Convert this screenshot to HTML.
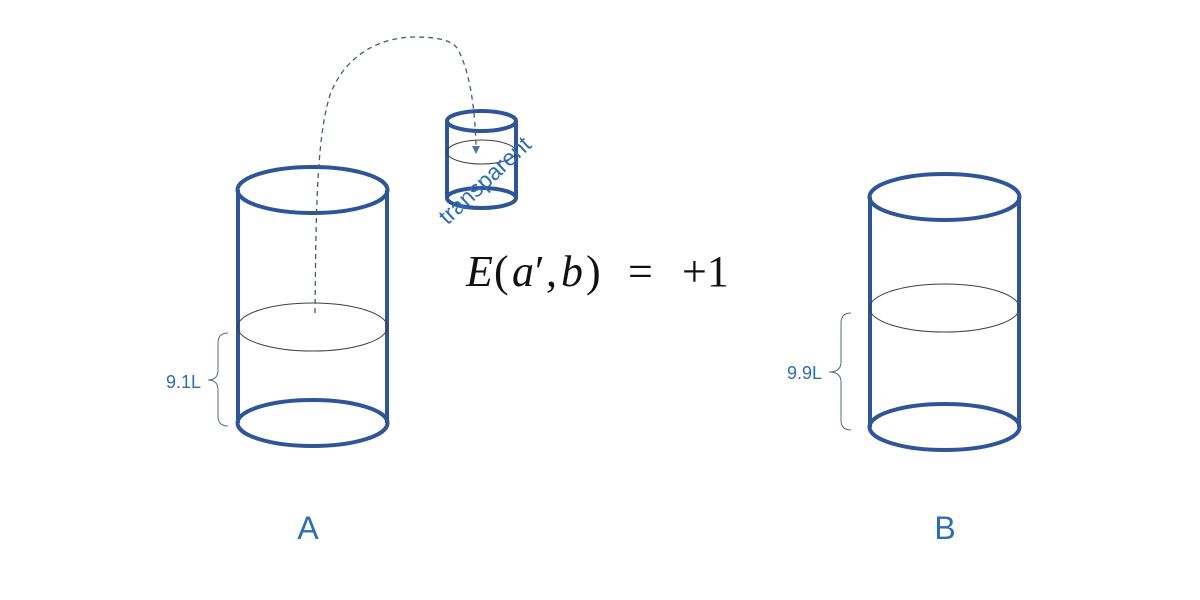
<!DOCTYPE html>
<html><head><meta charset="utf-8"><style>
html,body{margin:0;padding:0;background:#fff;}
svg{display:block;}
</style></head><body>
<svg width="1200" height="600" viewBox="0 0 1200 600" xmlns="http://www.w3.org/2000/svg">
<g fill="none" stroke="#2f5597">
  <line x1="238" y1="190" x2="238" y2="423" stroke-width="4"/>
  <line x1="387" y1="190" x2="387" y2="423" stroke-width="4"/>
  <ellipse cx="312.5" cy="190" rx="75" ry="23" stroke-width="4"/>
  <ellipse cx="312.5" cy="423" rx="75" ry="23" stroke-width="4"/>
  <line x1="870" y1="197" x2="870" y2="427" stroke-width="4"/>
  <line x1="1019" y1="197" x2="1019" y2="427" stroke-width="4"/>
  <ellipse cx="944.5" cy="197" rx="75" ry="23" stroke-width="4"/>
  <ellipse cx="944.5" cy="427" rx="75" ry="23" stroke-width="4"/>
  <line x1="447" y1="121" x2="447" y2="198" stroke-width="4"/>
  <line x1="516" y1="121" x2="516" y2="198" stroke-width="4"/>
  <ellipse cx="481.5" cy="121" rx="34.5" ry="10" stroke-width="4"/>
  <ellipse cx="481.5" cy="198" rx="34.5" ry="10" stroke-width="4"/>
</g>
<g fill="none" stroke="#404040" stroke-width="1">
  <ellipse cx="312.5" cy="327" rx="75" ry="24"/>
  <ellipse cx="944.5" cy="308" rx="75" ry="24"/>
  <ellipse cx="481.5" cy="152" rx="34.5" ry="12"/>
</g>
<path d="M315,313 C316,220 316,140 330,95 C345,55 380,37 415,37 C440,37 452,41 457,48 C470,70 475,110 476,145" fill="none" stroke="#4a5a75" stroke-width="1.3" stroke-dasharray="5,4"/>
<polygon points="472,146 480,146 476,154" fill="#4a72b0"/>
<g fill="none" stroke="#5a6a80" stroke-width="1">
  <path d="M228,333 Q218,333 218,343 L218,370 Q218,380 208,380 Q218,380 218,390 L218,416 Q218,426 228,426"/>
  <path d="M851,313 Q841,313 841,323 L841,362 Q841,372 829,372 Q841,372 841,382 L841,420 Q841,430 851,430"/>
</g>
<g font-family="Liberation Sans, sans-serif" fill="#2e6db4">
  <text x="201" y="388" font-size="18" text-anchor="end">9.1L</text>
  <text x="822" y="379" font-size="18" text-anchor="end">9.9L</text>
  <text x="308" y="539" font-size="32" text-anchor="middle">A</text>
  <text x="945" y="539" font-size="32" text-anchor="middle">B</text>
  <text x="490" y="186" font-size="23" text-anchor="middle" transform="rotate(-43 490 186)">transparent</text>
</g>
<g font-family="Liberation Serif, serif" font-size="44" fill="#111">
  <text x="466" y="286" font-style="italic">E</text>
  <text x="494" y="286">(</text>
  <text x="512" y="286" font-style="italic">a</text>
  <text x="535" y="286">′</text>
  <text x="546" y="286">,</text>
  <text x="561" y="286" font-style="italic">b</text>
  <text x="586" y="286">)</text>
  <text x="628" y="286">=</text>
  <text x="682" y="286">+1</text>
</g>
</svg>
</body></html>
